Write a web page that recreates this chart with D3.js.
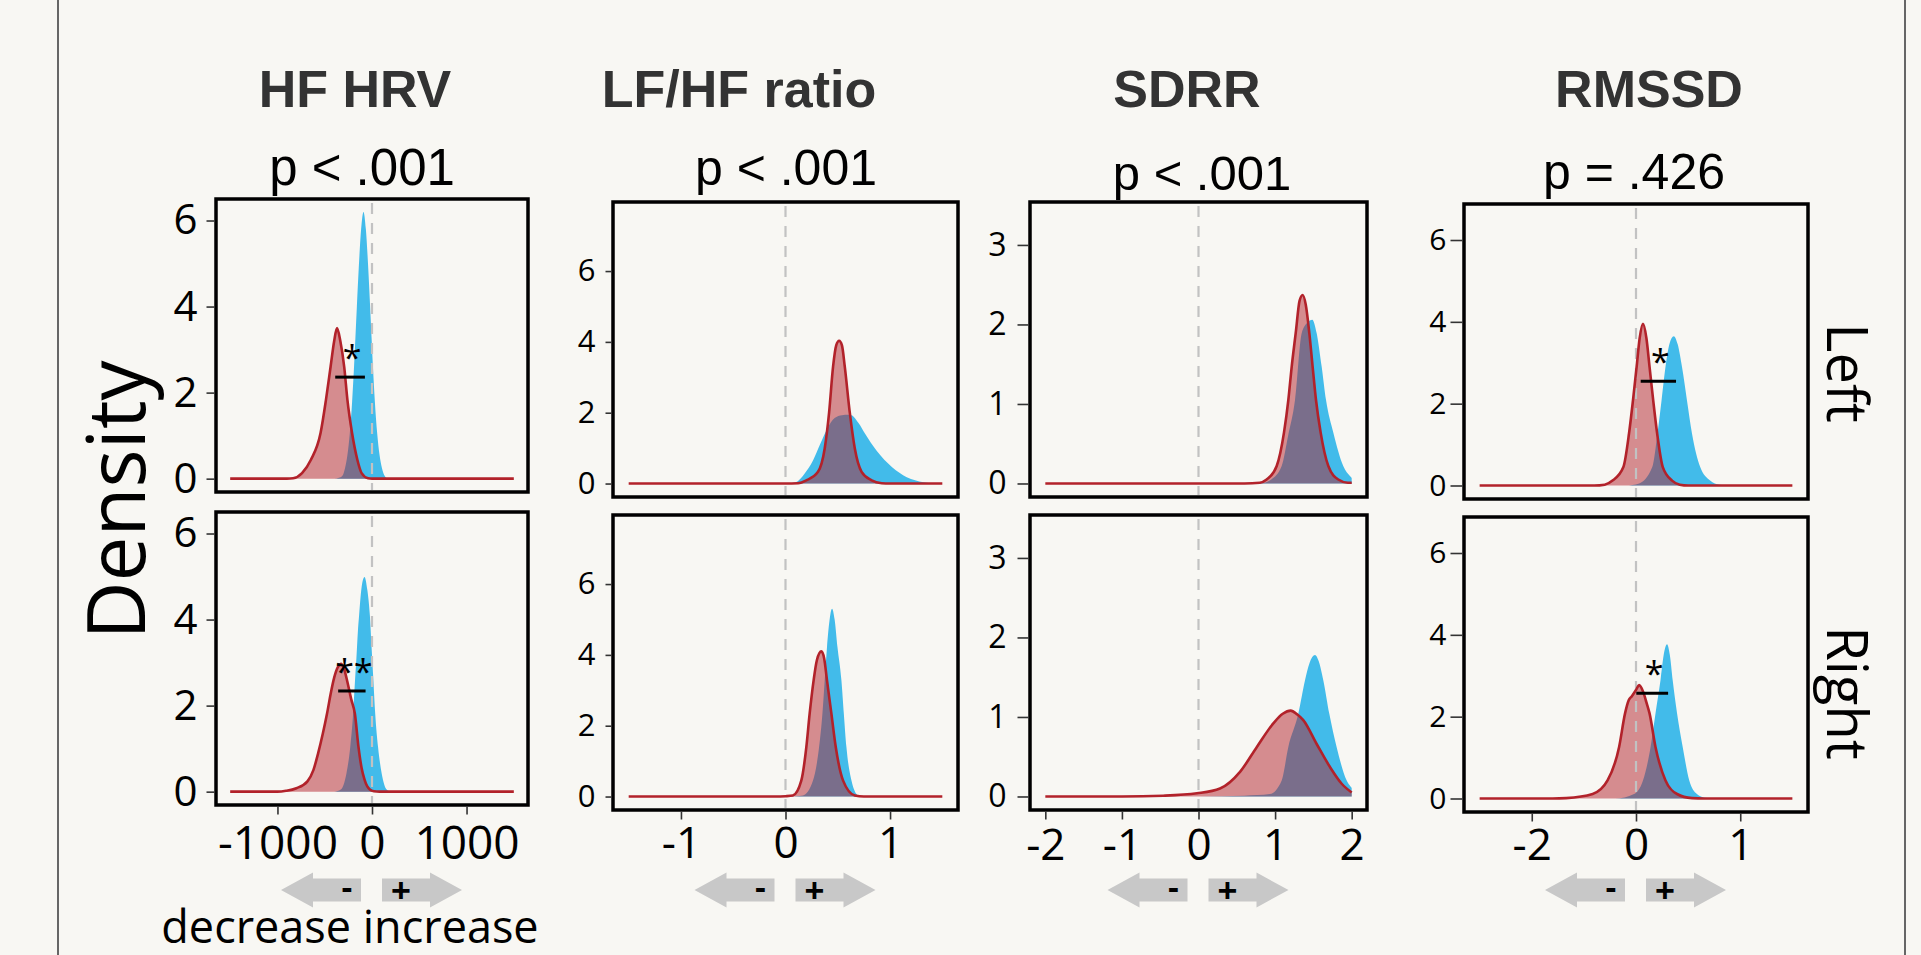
<!DOCTYPE html>
<html><head><meta charset="utf-8">
<script src="https://cdn.jsdelivr.net/npm/d3@7"></script>
<style>
html,body{margin:0;padding:0;background:#f8f7f3;}
svg{display:block;}
</style></head><body>
<svg id="chart" width="1921" height="955"></svg>
<script>
// ---------------- DATA ----------------
const measures = ["HF HRV", "LF/HF ratio", "SDRR", "RMSSD"];
const pValues = ["p < .001", "p < .001", "p < .001", "p = .426"];
const sides = ["Left", "Right"];
const yTickValues = [[0, 2, 4, 6], [0, 2, 4, 6], [0, 1, 2, 3], [0, 2, 4, 6]];
const xTickValues = [[-1000, 0, 1000], [-1, 0, 1], [-2, -1, 0, 1, 2], [-1, 0, 1]];
const xTickLabels = [["-1000", "0", "1000"], ["-1", "0", "1"], ["-2", "-1", "0", "1", "2"], ["-2", "0", "1"]];
const xDomains = [[-1650, 1650], [-1.65, 1.65], [-2.2, 2.2], [-1.65, 1.65]];
const yDomains = [[-0.31, 6.5], [-0.38, 7.95], [-0.17, 3.54], [-0.33, 6.88]];
const arrowLabels = ["-", "+"];
const directionText = "decrease increase";
const yTitle = "Density";

// density curves: [change, density]
const hfLeftBlue = [[-1500,0],[-400,0],[-350,0.02],[-315,0.06],[-285,0.25],[-260,0.55],[-235,1.05],[-210,1.8],[-190,2.6],[-175,3.3],[-160,4.0],[-140,4.9],[-115,5.8],[-90,6.2],[-65,5.8],[-40,4.9],[-20,4.0],[-5,3.3],[10,2.6],[30,1.8],[55,1.05],[80,0.55],[105,0.25],[135,0.06],[170,0],[1500,0]];
const hfLeftRed = [[-1500,0],[-900,0],[-834,0.01],[-740,0.13],[-646,0.44],[-544,1.06],[-487,1.83],[-438,2.6],[-400,3.2],[-370,3.5],[-335,3.2],[-294,2.6],[-260,1.83],[-211,1.06],[-155,0.44],[-110,0.13],[-42,0.01],[0,0],[1500,0]];
const hfRightBlue = [[-1500,0],[-400,0],[-330,0.05],[-270,0.43],[-230,1.04],[-200,1.81],[-180,2.57],[-165,3.1],[-150,3.7],[-136,4.11],[-110,4.75],[-79,4.99],[-50,4.7],[-23,4.11],[-4,3.34],[15,2.57],[34,1.81],[64,1.04],[102,0.43],[155,0.05],[200,0],[1500,0]];
const hfRightRed = [[-1500,0],[-1000,0],[-909,0.02],[-800,0.08],[-683,0.24],[-620,0.5],[-570,0.89],[-520,1.35],[-476,1.81],[-435,2.3],[-400,2.65],[-360,2.9],[-325,2.97],[-295,2.85],[-260,2.55],[-220,2.15],[-181,1.81],[-143,1.04],[-110,0.55],[-79,0.28],[-50,0.12],[-23,0.05],[20,0.01],[80,0],[1500,0]];

const lfLeftBlue = [[-1.5,0],[0,0],[0.1,0.04],[0.18,0.27],[0.263,0.65],[0.33,1.1],[0.4,1.55],[0.47,1.85],[0.54,1.93],[0.6,1.94],[0.63,1.93],[0.7,1.7],[0.76,1.41],[0.87,0.93],[1.02,0.46],[1.16,0.18],[1.32,0.04],[1.45,0],[1.5,0]];
const lfLeftRed = [[-1.5,0],[0,0],[0.12,0.01],[0.199,0.09],[0.311,0.33],[0.375,0.99],[0.417,2.0],[0.455,3.3],[0.485,3.9],[0.513,4.03],[0.54,3.9],[0.567,3.3],[0.615,2.0],[0.663,0.99],[0.728,0.33],[0.824,0.09],[0.92,0.01],[1.0,0],[1.5,0]];
const lfRightBlue = [[-1.5,0],[0,0],[0.1,0.01],[0.167,0.03],[0.263,0.45],[0.321,1.39],[0.353,2.34],[0.375,3.28],[0.397,4.22],[0.42,4.95],[0.445,5.3],[0.47,5.0],[0.497,4.22],[0.535,3.28],[0.558,2.34],[0.583,1.39],[0.631,0.45],[0.695,0.03],[0.75,0],[1.5,0]];
const lfRightRed = [[-1.5,0],[-0.1,0],[0,0.01],[0.07,0.03],[0.151,0.45],[0.199,1.39],[0.231,2.34],[0.269,3.28],[0.3,3.85],[0.343,4.1],[0.37,3.9],[0.397,3.28],[0.439,2.34],[0.481,1.39],[0.551,0.45],[0.663,0.03],[0.75,0],[1.5,0]];

const sdLeftBlue = [[-2,0],[0.6,0],[0.85,0.01],[0.95,0.05],[1.086,0.22],[1.17,0.6],[1.26,1.05],[1.347,1.89],[1.42,2.02],[1.486,2.06],[1.543,1.89],[1.608,1.47],[1.665,1.05],[1.76,0.64],[1.89,0.22],[1.98,0.09],[2,0.07]];
const sdLeftRed = [[-2,0],[0.6,0],[0.8,0.01],[0.89,0.05],[1.021,0.22],[1.116,0.64],[1.173,1.05],[1.217,1.47],[1.269,1.89],[1.32,2.3],[1.36,2.37],[1.4,2.25],[1.447,1.89],[1.49,1.47],[1.534,1.05],[1.595,0.64],[1.695,0.22],[1.825,0.05],[1.95,0.01],[2,0.01]];
const sdRightBlue = [[-2,0],[0,0],[0.6,0.01],[0.934,0.03],[1.086,0.2],[1.172,0.62],[1.303,1.04],[1.39,1.46],[1.45,1.68],[1.521,1.78],[1.57,1.7],[1.63,1.46],[1.708,1.04],[1.804,0.62],[1.935,0.2],[1.99,0.12],[2,0.11]];
const sdRightRed = [[-2,0],[-1,0],[-0.46,0.01],[-0.02,0.04],[0.281,0.1],[0.542,0.31],[0.76,0.62],[0.977,0.92],[1.1,1.04],[1.204,1.08],[1.29,1.03],[1.368,0.96],[1.543,0.66],[1.717,0.37],[1.87,0.16],[2,0.05]];

const rmLeftBlue = [[-1.5,0],[-0.1,0],[0.03,0.05],[0.156,0.45],[0.206,1.27],[0.245,2.08],[0.283,2.9],[0.32,3.45],[0.362,3.65],[0.4,3.45],[0.441,2.9],[0.489,2.08],[0.537,1.27],[0.616,0.45],[0.711,0.12],[0.8,0.02],[0.9,0],[1.5,0]];
const rmLeftRed = [[-1.5,0],[-0.4,0],[-0.3,0.02],[-0.225,0.12],[-0.121,0.45],[-0.067,1.27],[-0.029,2.08],[0.006,2.9],[0.035,3.6],[0.067,3.95],[0.1,3.6],[0.13,2.9],[0.165,2.08],[0.203,1.27],[0.257,0.45],[0.346,0.12],[0.42,0.02],[0.5,0],[1.5,0]];
const rmRightBlue = [[-1.5,0],[-0.2,0],[-0.019,0.11],[0.067,0.44],[0.14,1.26],[0.187,2.08],[0.235,2.89],[0.265,3.5],[0.298,3.77],[0.325,3.5],[0.352,2.89],[0.394,2.08],[0.448,1.26],[0.511,0.44],[0.584,0.11],[0.66,0.02],[0.75,0],[1.5,0]];
const rmRightRed = [[-1.5,0],[-0.8,0],[-0.67,0.01],[-0.416,0.11],[-0.273,0.44],[-0.162,1.26],[-0.105,2.08],[-0.07,2.4],[-0.04,2.5],[0,2.65],[0.029,2.77],[0.07,2.6],[0.1,2.35],[0.13,2.08],[0.187,1.26],[0.283,0.44],[0.394,0.11],[0.537,0.01],[0.65,0],[1.5,0]];

// significance bars
const sigMeasure = [0, 0, 3, 3];
const sigSide = [0, 1, 0, 1];
const sigFrom = [-389, -358, 0.045, 0.003];
const sigTo = [-75, -68, 0.384, 0.308];
const sigHeight = [2.36, 2.34, 2.55, 2.57];
const sigLabel = ["*", "**", "*", "*"];

// table built from the arrays above
const blueCurves = [[hfLeftBlue, hfRightBlue], [lfLeftBlue, lfRightBlue], [sdLeftBlue, sdRightBlue], [rmLeftBlue, rmRightBlue]];
const redCurves = [[hfLeftRed, hfRightRed], [lfLeftRed, lfRightRed], [sdLeftRed, sdRightRed], [rmLeftRed, rmRightRed]];

// ---------------- LAYOUT / STYLE ----------------
const layout = [
  {left: 216, right: 528, tops: [199, 512], bottoms: [492, 805], yFont: 42, yTick: 8, yPad: 9, xFont: 46, xPad: 12, titleX: 355, titleFont: 52, pX: 362, pY: 185, pFont: 51},
  {left: 613, right: 958, tops: [202, 515], bottoms: [497, 810], yFont: 31, yTick: 6, yPad: 10, xFont: 44, xPad: 7, titleX: 739, titleFont: 52, pX: 786, pY: 185, pFont: 50},
  {left: 1030, right: 1367, tops: [202, 515], bottoms: [497, 810], yFont: 32, yTick: 11, yPad: 11, xFont: 44, xPad: 9, titleX: 1187, titleFont: 52, pX: 1202, pY: 190, pFont: 49},
  {left: 1464, right: 1808, tops: [204, 517], bottoms: [499, 812], yFont: 30, yTick: 12, yPad: 4, xFont: 44, xPad: 7, titleX: 1649, titleFont: 52, pX: 1634, pY: 189, pFont: 50}
];
const BLUE = "#42bbea";
const RED_FILL = "rgba(178,33,43,0.5)";
const RED_LINE = "#b2222a";
const SANS = "'Open Sans', 'Noto Sans', sans-serif";
const ARIAL = "'Liberation Sans', Arial, sans-serif";

const svg = d3.select("#chart");

// outer vertical rules
svg.append("line").attr("x1", 58).attr("x2", 58).attr("y1", 0).attr("y2", 955)
  .attr("stroke", "#666").attr("stroke-width", 2);
svg.append("line").attr("x1", 1905).attr("x2", 1905).attr("y1", 0).attr("y2", 955)
  .attr("stroke", "#666").attr("stroke-width", 2);

// y title
svg.append("text").attr("transform", "translate(145,500) rotate(-90)")
  .attr("text-anchor", "middle").attr("font-family", SANS).attr("font-size", 80)
  .attr("fill", "#000").text(yTitle);

measures.forEach((m, mi) => {
  const L = layout[mi];
  const x = d3.scaleLinear().domain(xDomains[mi]).range([L.left, L.right]);

  // title and p-value
  svg.append("text").attr("x", L.titleX).attr("y", 107).attr("text-anchor", "middle")
    .attr("font-family", ARIAL).attr("font-weight", "bold").attr("font-size", L.titleFont)
    .attr("fill", "#333").text(m);
  svg.append("text").attr("x", L.pX).attr("y", L.pY).attr("text-anchor", "middle")
    .attr("font-family", ARIAL).attr("font-size", L.pFont).attr("fill", "#000").text(pValues[mi]);

  sides.forEach((s, si) => {
    const top = L.tops[si], bottom = L.bottoms[si];
    const y = d3.scaleLinear().domain(yDomains[mi]).range([bottom, top]);
    const g = svg.append("g");

    const area = d3.area().x(d => x(d[0])).y0(y(0)).y1(d => y(d[1])).curve(d3.curveMonotoneX);
    const line = d3.line().x(d => x(d[0])).y(d => y(d[1])).curve(d3.curveMonotoneX);

    g.append("path").datum(blueCurves[mi][si]).attr("d", area).attr("fill", BLUE);
    g.append("path").datum(redCurves[mi][si]).attr("d", area).attr("fill", RED_FILL);

    // zero reference
    g.append("line").attr("x1", x(0)).attr("x2", x(0)).attr("y1", top + 4).attr("y2", bottom - 2)
      .attr("stroke", "#c2c2c2").attr("stroke-width", 2.2).attr("stroke-dasharray", "11,9");

    g.append("path").datum(redCurves[mi][si]).attr("d", line).attr("fill", "none")
      .attr("stroke", RED_LINE).attr("stroke-width", 2.6);

    // significance annotation
    sigMeasure.forEach((sm, k) => {
      if (sm !== mi || sigSide[k] !== si) return;
      const yb = y(sigHeight[k]);
      g.append("line").attr("x1", x(sigFrom[k])).attr("x2", x(sigTo[k])).attr("y1", yb).attr("y2", yb)
        .attr("stroke", "#000").attr("stroke-width", 3);
      g.append("text").attr("x", (x(sigFrom[k]) + x(sigTo[k])) / 2 + 2).attr("y", yb - 7)
        .attr("text-anchor", "middle").attr("font-family", SANS).attr("font-size", 34)
        .attr("fill", "#000").text(sigLabel[k]);
    });

    // frame
    g.append("rect").attr("x", L.left).attr("y", top).attr("width", L.right - L.left).attr("height", bottom - top)
      .attr("fill", "none").attr("stroke", "#000").attr("stroke-width", 3.5);

    // y axis
    const ya = svg.append("g").attr("transform", `translate(${L.left - 1.5},0)`)
      .call(d3.axisLeft(y).tickValues(yTickValues[mi]).tickSize(L.yTick).tickPadding(L.yPad).tickFormat(d3.format("d")));
    ya.select(".domain").remove();
    ya.selectAll(".tick line").attr("stroke", "#333").attr("stroke-width", 1.6);
    ya.selectAll(".tick text").attr("font-family", SANS).attr("font-size", L.yFont).attr("fill", "#000");

    if (si === 1) {
      const xa = svg.append("g").attr("transform", `translate(0,${bottom + 1.5})`)
        .call(d3.axisBottom(x).tickValues(xTickValues[mi]).tickSize(8).tickPadding(L.xPad)
          .tickFormat((d, i) => xTickLabels[mi][i]));
      xa.select(".domain").remove();
      xa.selectAll(".tick line").attr("stroke", "#333").attr("stroke-width", 1.6);
      xa.selectAll(".tick text").attr("font-family", SANS).attr("font-size", L.xFont).attr("fill", "#000");
    }
  });

  // direction arrows around zero
  const x0 = x(0), cy = 890;
  const leftPts = [[-11, -11.5], [-59, -11.5], [-59, -17.5], [-91, 0], [-59, 17.5], [-59, 11.5], [-11, 11.5]];
  const rightPts = leftPts.map(p => [-p[0] - 1, p[1]]);
  [leftPts, rightPts].forEach(pts => {
    svg.append("polygon").attr("points", pts.map(p => `${x0 + p[0]},${cy + p[1]}`).join(" "))
      .attr("fill", "#c8c8c8");
  });
  svg.append("text").attr("x", x0 - 25).attr("y", cy + 9).attr("text-anchor", "middle")
    .attr("font-family", ARIAL).attr("font-weight", "bold").attr("font-size", 34).attr("fill", "#000").text(arrowLabels[0]);
  svg.append("text").attr("x", x0 + 29).attr("y", cy + 12).attr("text-anchor", "middle")
    .attr("font-family", ARIAL).attr("font-weight", "bold").attr("font-size", 34).attr("fill", "#000").text(arrowLabels[1]);
});

// strip labels
[[373, sides[0]], [693, sides[1]]].forEach(([cy, t]) => {
  svg.append("text").attr("transform", `translate(1827,${cy}) rotate(90)`)
    .attr("text-anchor", "middle").attr("font-family", SANS).attr("font-size", 56)
    .attr("fill", "#000").text(t);
});

// decrease / increase caption
svg.append("text").attr("x", 350).attr("y", 943).attr("text-anchor", "middle")
  .attr("font-family", SANS).attr("font-size", 45).attr("fill", "#000").text(directionText);
</script>
</body></html>
